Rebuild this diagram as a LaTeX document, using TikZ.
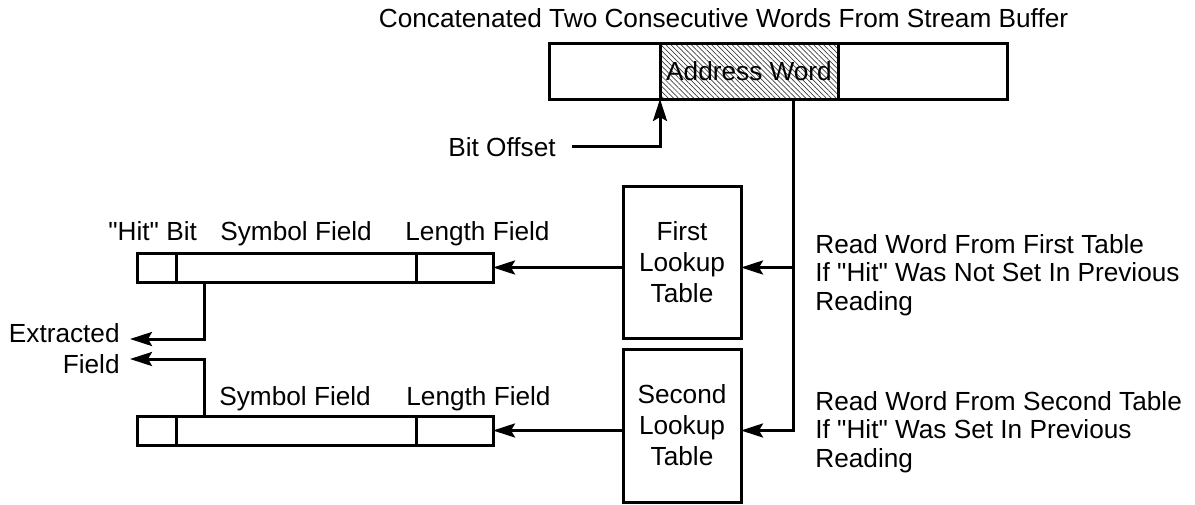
\documentclass[tikz,border=0pt]{standalone}
\usepackage{fontspec}
\setmainfont{Liberation Sans}
\usetikzlibrary{arrows.meta,positioning,patterns.meta,calc}

\begin{document}
\begin{tikzpicture}[x=0.5pt,y=-0.5pt,font=\fontsize{13.1}{14.2}\selectfont,
  b/.style={draw,line width=1.5pt,inner sep=0pt,outer sep=0pt},
  f/.style={b,minimum height=14.5pt},
  lk/.style={b,minimum width=59pt,align=center,font=\fontsize{13.1}{15.5}\selectfont},
  t/.style={inner sep=0pt,align=left},
  a/.style={-{Stealth[length=11pt,width=7pt,inset=2pt]},line width=1.5pt}]
  \useasboundingbox (0,0) rectangle (1195,504);
  % stream buffer
  \node[t,anchor=base] (title) at (723.5,27) {Concatenated Two Consecutive Words From Stream Buffer};
  \node[b,minimum width=229pt,minimum height=28pt] (buf) at (778,71) {};
  \node[b,pattern={Lines[angle=-45,distance=1.8pt,line width=0.35pt]},pattern color=black!75,minimum width=89pt,minimum height=28pt] (addr) at (749,71) {Address Word};
  \node[t,anchor=base east] (bitoff) at (556,156) {Bit Offset};
  % lookup tables
  \node[lk,minimum height=76pt] (look1) at (682,262) {First\\Lookup\\Table};
  \node[lk,minimum height=76.5pt] (look2) at (682,425.5) {Second\\Lookup\\Table};
  % decoded words
  \node[f,minimum width=19.5pt] (hit1) at (156.5,267.5) {};
  \node[f,minimum width=120pt,right=0pt of hit1] (sym1) {};
  \node[f,minimum width=38.5pt,right=0pt of sym1] (len1) {};
  \node[f,minimum width=19.5pt] (hit2) at (156.5,430.5) {};
  \node[f,minimum width=120pt,right=0pt of hit2] (sym2) {};
  \node[f,minimum width=38.5pt,right=0pt of sym2] (len2) {};
  \node[t,anchor=base west] (hitl1) at (108,240) {\textquotedbl Hit\textquotedbl{} Bit};
  \node[t,anchor=base west] (syml1) at (220,240) {Symbol Field};
  \node[t,anchor=base west] (lenl1) at (405,240) {Length Field};
  \node[t,anchor=base west] (syml2) at (219,405) {Symbol Field};
  \node[t,anchor=base west] (lenl2) at (406,405) {Length Field};
  \node[t,align=right,anchor=east,font=\fontsize{13.1}{15.5}\selectfont] (ext) at (120,349) {Extracted\\Field};
  \node[t,anchor=base west] (rd1) at (815,310) {Read Word From First Table\\If \textquotedbl Hit\textquotedbl{} Was Not Set In Previous\\Reading};
  \node[t,anchor=base west] (rd2) at (815,467) {Read Word From Second Table\\If \textquotedbl Hit\textquotedbl{} Was Set In Previous\\Reading};
  % connectors
  \coordinate (tap) at ($(addr.south east)+(-45,0)$);
  \draw[a] (tap) |- (look2.east |- len2.east);
  \draw[a] (tap |- len1.east) -- (look1.east |- len1.east);
  \draw[a] (look1.west |- len1.east) -- (len1.east);
  \draw[a] (look2.west |- len2.east) -- (len2.east);
  \draw[a] ([xshift=8pt]bitoff.east) -| (addr.south west);
  \coordinate (x1) at ($(sym1.south west)+(28,0)$);
  \coordinate (x2) at ($(sym2.north west)+(28,0)$);
  \draw[a] (x1) |- ([xshift=5pt,yshift=5pt]ext.east);
  \draw[a] (x2) |- ([xshift=5pt,yshift=-5pt]ext.east);
\end{tikzpicture}
\end{document}
